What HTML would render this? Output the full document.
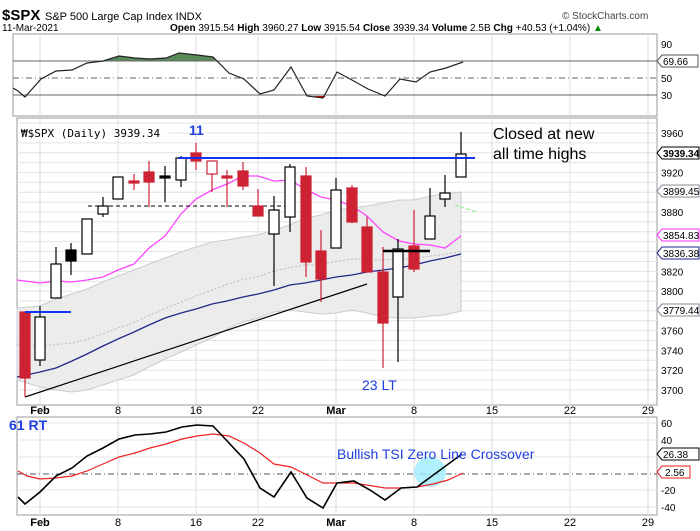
<!DOCTYPE html>
<html><head><meta charset="utf-8"><style>
body{margin:0;background:#fff;}
svg{display:block;font-family:"Liberation Sans",sans-serif;}
</style></head><body>
<svg id="s" width="700" height="531" viewBox="0 0 700 531" xmlns="http://www.w3.org/2000/svg">
<rect width="700" height="531" fill="#fff"/>
<text x="2" y="20" font-size="15" font-weight="bold" fill="#000">$SPX</text>
<text x="45" y="20" font-size="11" fill="#000">S&amp;P 500 Large Cap Index  INDX</text>
<text x="562" y="19" font-size="10" fill="#444">© StockCharts.com</text>
<text x="2" y="31" font-size="10" fill="#000">11-Mar-2021</text>
<text x="170" y="31" font-size="10" fill="#000"><tspan font-weight="bold">Open</tspan> 3915.54 <tspan font-weight="bold">High</tspan> 3960.27 <tspan font-weight="bold">Low</tspan> 3915.54 <tspan font-weight="bold">Close</tspan> 3939.34 <tspan font-weight="bold">Volume</tspan> 2.5B <tspan font-weight="bold">Chg</tspan> +40.53 (+1.04%) <tspan fill="#080">▲</tspan></text>
<g id="g"></g>
</svg>
<script>
const g=document.getElementById('g');
let h='';
const dx=[40,118,196,258,336,414,492,570,648];
const dl=['Feb','8','16','22','Mar','8','15','22','29'];
// top panel
h+='<rect x="13" y="34" width="644" height="82" fill="#fff" stroke="#999"/>';
dx.forEach(x=>h+=`<line x1="${x}" y1="34" x2="${x}" y2="116" stroke="#ddd"/>`);
const rsi=[[13,88],[18,91],[25,97],[41,79],[56,71],[72,70],[87,63],[103,61],[119,56],[135,58],[150,59],[166,58],[179,53],[197,55],[213,57],[229,73],[244,79],[260,94],[274,90],[291,67],[307,96],[323,98],[337,72],[352,80],[368,89],[385,96],[400,79],[416,82],[430,72],[446,68],[463,62]];
h+='<polygon points="100,61 103,61 119,56 135,58 150,59 166,58 179,53 197,55 213,57 215,61" fill="#5a8a5a" stroke="#333" stroke-width=".5"/>';
h+='<polygon points="314,96 323,98 326,96" fill="#c00"/>';
h+='<line x1="13" y1="61" x2="657" y2="61" stroke="#666"/><line x1="13" y1="78" x2="657" y2="78" stroke="#666" stroke-dasharray="6,3,1,3"/><line x1="13" y1="95" x2="657" y2="95" stroke="#666"/>';
h+=`<polyline points="${rsi.map(p=>p.join(',')).join(' ')}" fill="none" stroke="#222" stroke-width="1.2"/>`;
h+='<text x="661" y="48" font-size="10">90</text><text x="661" y="82" font-size="10">50</text><text x="661" y="99" font-size="10">30</text>';
h+='<polygon points="657,61 662,55 698,55 698,67 662,67" fill="#fff" stroke="#555"/><text x="663" y="65" font-size="10">69.66</text>';
// main panel
h+='<rect x="17" y="118" width="640" height="287" fill="#fff" stroke="#999"/>';
const Y=p=>133+(3960-p)*0.988;
for(let p=3700;p<=3970;p+=10){const y=Y(p);h+=`<line x1="17" y1="${y}" x2="657" y2="${y}" stroke="#e4e4e4"/>`;}
dx.forEach(x=>h+=`<line x1="${x}" y1="118" x2="${x}" y2="405" stroke="#ddd"/>`);
const xs=[17,40,56,72,87,103,118,134,149,165,181,196,212,227,243,258,274,290,305,321,336,352,367,383,399,414,430,445,461];
const up=[308,306,299,294,289,282,276,270,264,258,252,247,242,240,237,235,230,225,218,215,210,208,206,203,200,200,196,194,192];
const lo=[380,387,390,392,390,385,380,375,367,359,352,345,338,329,322,318,312,310,312,314,313,310,313,317,318,318,316,315,311];
let poly=xs.map((x,i)=>x+','+up[i]).join(' ')+' '+xs.map((x,i)=>x+','+lo[i]).reverse().join(' ');
h+=`<polygon points="${poly}" fill="#ececec" stroke="#c8ccd4"/>`;
h+=`<polyline points="${xs.map((x,i)=>x+','+((up[i]+lo[i])/2)).join(' ')}" fill="none" stroke="#bbb" stroke-dasharray="2,2"/>`;
const pink=[[17,280],[40,283],[56,281],[72,282],[87,280],[103,277],[118,270],[134,264],[149,248],[165,236],[181,214],[196,199],[212,190],[227,184],[243,176],[258,176],[274,181],[290,180],[305,189],[321,197],[336,200],[352,206],[367,216],[383,232],[399,241],[414,244],[430,245],[445,248],[461,236]];
const navy=[[17,377],[40,372],[56,368],[72,361],[87,354],[103,346],[118,339],[134,332],[149,325],[165,318],[181,313],[196,309],[212,304],[227,301],[243,297],[258,294],[274,290],[290,285],[305,283],[321,280],[336,277],[352,275],[367,272],[383,270],[399,268],[414,265],[430,261],[445,258],[461,254]];
h+=`<polyline points="${pink.map(p=>p.join(',')).join(' ')}" fill="none" stroke="#f4f" stroke-width="1.3"/>`;
h+=`<polyline points="${navy.map(p=>p.join(',')).join(' ')}" fill="none" stroke="#22288a" stroke-width="1.3"/>`;
h+='<line x1="25" y1="397" x2="367" y2="284" stroke="#000" stroke-width="1.2"/>';
h+='<line x1="455" y1="205" x2="477" y2="212" stroke="#9e9" stroke-width="1.3" stroke-dasharray="4,2"/>';
h+='<line x1="88" y1="206" x2="290" y2="206" stroke="#000" stroke-dasharray="4,3"/>';
const c=[[25,312,378,312,397,'r'],[40,317,360,306,366,'w'],[56,264,298,247,298,'w'],[71,250,261,243,275,'b'],[87,219,254,219,254,'w'],[103,206,214,197,217,'w'],[118,177,199,177,199,'w'],[134,181,183,174,190,'r'],[149,172,182,161,207,'r'],[165,176,178,166,202,'b'],[181,158,180,156,187,'w'],[196,153,161,143,170,'r'],[212,161,174,161,192,'rh'],[227,176,178,170,207,'r'],[243,171,186,162,190,'r'],[258,206,216,189,216,'r'],[274,210,234,196,286,'w'],[290,167,217,164,232,'w'],[306,176,262,167,277,'r'],[321,251,279,230,302,'r'],[336,190,248,178,248,'w'],[352,188,222,185,223,'r'],[367,227,272,217,272,'r'],[383,272,323,247,368,'r'],[398,249,297,239,362,'w'],[414,246,269,210,272,'r'],[430,216,239,188,239,'w'],[445,193,199,175,207,'w'],[461,154,177,132,177,'w']];
c.forEach(([x,t,b,hi,lw,k])=>{const red=k[0]=='r';const col=red?'#cc2233':'#000';
h+=`<line x1="${x}" y1="${hi}" x2="${x}" y2="${lw}" stroke="${col}" stroke-width="1.2"/>`;
const fill=(k=='r')?'#cc2233':(k=='b'?'#000':'#fff');
h+=`<rect x="${x-5}" y="${t}" width="10" height="${Math.max(b-t,1.5)}" fill="${fill}" stroke="${col}" stroke-width="1.2"/>`;});
h+='<line x1="178" y1="158" x2="475" y2="158" stroke="#1133ee" stroke-width="2"/>';
h+='<line x1="25" y1="312" x2="71" y2="312" stroke="#1133ee" stroke-width="2"/>';
h+='<line x1="383" y1="251" x2="430" y2="251" stroke="#000" stroke-width="2.5"/>';
h+='<rect x="19" y="125" width="150" height="14" fill="#fff" opacity=".8"/>';
h+='<text x="21" y="137" font-size="11" font-family="DejaVu Sans Mono,monospace">₩$SPX (Daily) 3939.34</text>';
h+='<text x="189" y="135" font-size="14" font-weight="bold" fill="#1f3fe0">11</text>';
h+='<text x="362" y="390" font-size="14" fill="#1f3fe0">23 LT</text>';
h+='<text x="493" y="139" font-size="16" fill="#000">Closed at new</text><text x="493" y="159" font-size="16" fill="#000">all time highs</text>';
[[3960,0],[3920,0],[3880,0],[3820,0],[3800,0],[3760,0],[3740,0],[3720,0],[3700,0]].forEach(([p])=>h+=`<text x="661" y="${Y(p)+4}" font-size="10">${p}</text>`);
const box=(y,t,sc,bold)=>{h+=`<polygon points="657,${y} 662,${y-6} 699,${y-6} 699,${y+6} 662,${y+6}" fill="#fff" stroke="${sc}"/><text x="663" y="${y+4}" font-size="10" ${bold?'font-weight="bold"':''}>${t}</text>`;};
box(153,'3939.34','#000',1);box(191,'3899.45','#889');box(235,'3854.83','#f3f');box(253,'3836.38','#22288a');box(310,'3779.44','#889');
dx.forEach((x,i)=>{const b=(dl[i]=='Feb'||dl[i]=='Mar');h+=`<text x="${x}" y="414" font-size="11" text-anchor="middle" ${b?'font-weight="bold"':''}>${dl[i]}</text>`;});
// bottom panel
h+='<rect x="17" y="417" width="640" height="98" fill="#fff" stroke="#999"/>';
[423,440,457,490,507].forEach(y=>h+=`<line x1="17" y1="${y}" x2="657" y2="${y}" stroke="#e4e4e4"/>`);
dx.forEach(x=>h+=`<line x1="${x}" y1="417" x2="${x}" y2="515" stroke="#ddd"/>`);
h+='<line x1="17" y1="474" x2="657" y2="474" stroke="#555" stroke-dasharray="6,3,1,3"/>';
h+='<ellipse cx="430" cy="472" rx="16" ry="15" fill="#9eeefc" opacity=".8"/>';
const red=[[18,471],[27,476],[40,479],[56,478],[72,476],[87,471],[103,464],[119,457],[135,453],[150,448],[166,444],[182,439],[197,436],[213,434],[229,436],[244,443],[260,453],[274,464],[291,467],[307,475],[323,483],[354,483],[385,488],[401,488],[417,487],[433,484],[448,480],[463,473]];
const blk=[[18,497],[25,504],[40,492],[56,476],[72,468],[87,456],[103,448],[119,439],[135,435],[150,434],[166,432],[182,427],[197,425],[213,426],[229,443],[244,459],[260,488],[274,497],[291,472],[307,498],[323,508],[337,483],[354,481],[370,490],[385,500],[401,488],[417,487],[462,454]];
h+=`<polyline points="${red.map(p=>p.join(',')).join(' ')}" fill="none" stroke="#e22" stroke-width="1.2"/>`;
h+=`<polyline points="${blk.map(p=>p.join(',')).join(' ')}" fill="none" stroke="#000" stroke-width="1.6"/>`;
h+='<text x="337" y="459" font-size="14" fill="#1f3fe0">Bullish TSI Zero Line Crossover</text>';
h+='<text x="9" y="430" font-size="14" font-weight="bold" fill="#1f3fe0">61 RT</text>';
[[423,'60'],[440,'40'],[490,'-20'],[507,'-40']].forEach(([y,t])=>h+=`<text x="661" y="${y+4}" font-size="10">${t}</text>`);
h+='<polygon points="657,454 662,448 699,448 699,460 662,460" fill="#fff" stroke="#000"/><text x="663" y="458" font-size="10">26.38</text>';
h+='<polygon points="657,472 662,466 690,466 690,478 662,478" fill="#fff" stroke="#e22"/><text x="665" y="476" font-size="10">2.56</text>';
dx.forEach((x,i)=>{const b=(dl[i]=='Feb'||dl[i]=='Mar');h+=`<text x="${x}" y="526" font-size="11" text-anchor="middle" ${b?'font-weight="bold"':''}>${dl[i]}</text>`;});
g.innerHTML=h;
</script>
</body></html>
